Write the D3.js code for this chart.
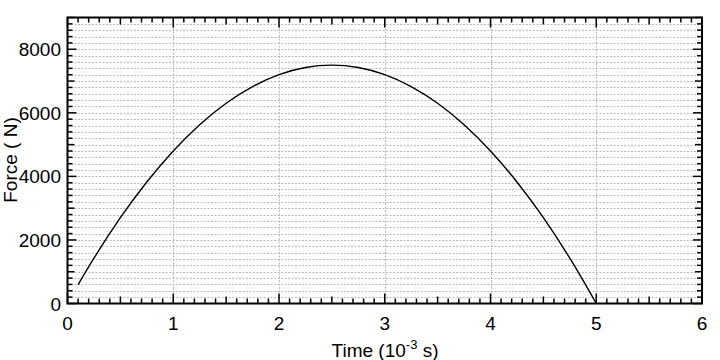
<!DOCTYPE html>
<html>
<head>
<meta charset="utf-8">
<script src="https://cdn.jsdelivr.net/npm/d3@7"></script>
<style>
  body { margin: 0; background: #fff; }
  svg { font-family: "Liberation Sans", Arial, Helvetica, sans-serif; }
</style>
</head>
<body>
<svg id="chart" width="720" height="360"></svg>
<script>
// time (10^-3 s) and force (N)
var times  = [0.1, 0.25, 0.5, 0.75, 1.0, 1.25, 1.5, 1.75, 2.0, 2.25, 2.5, 2.75, 3.0, 3.25, 3.5, 3.75, 4.0, 4.25, 4.5, 4.75, 5.0];
var forces = [590, 1425, 2700, 3825, 4800, 5625, 6300, 6825, 7200, 7425, 7500, 7425, 7200, 6825, 6300, 5625, 4800, 3825, 2700, 1425, 0];
var xTicks = [0, 1, 2, 3, 4, 5, 6];
var yTicks = [0, 2000, 4000, 6000, 8000];

var svg = d3.select('#chart');
var m = { l: 67.5, t: 17.5, r: 702, b: 303.5 };

var x = d3.scaleLinear().domain([0, 6]).range([m.l, m.r]);
var y = d3.scaleLinear().domain([0, 9000]).range([m.b, m.t]);

var grid = svg.append('g')
    .attr('stroke', '#aaa')
    .attr('stroke-width', 0.8)
    .attr('stroke-dasharray', '2,1.5');

// horizontal grid every 200
d3.range(200, 9000, 200).forEach(function (v) {
    grid.append('line')
        .attr('x1', m.l).attr('x2', m.r)
        .attr('y1', Math.round(y(v)) + 0.5).attr('y2', Math.round(y(v)) + 0.5);
});
// vertical grid at majors
xTicks.slice(1, -1).forEach(function (v) {
    grid.append('line')
        .attr('x1', Math.round(x(v)) + 0.5).attr('x2', Math.round(x(v)) + 0.5)
        .attr('y1', m.t).attr('y2', m.b);
});

// ticks (inward, mirrored)
var ticks = svg.append('g').attr('stroke', '#000').attr('stroke-width', 1.5);
d3.range(0, 61).forEach(function (i) {
    var v = i / 10;
    var len = i % 10 === 0 ? 10 : (i % 5 === 0 ? 7 : 5);
    var px = x(v);
    ticks.append('line').attr('x1', px).attr('x2', px).attr('y1', m.b).attr('y2', m.b - len);
    ticks.append('line').attr('x1', px).attr('x2', px).attr('y1', m.t).attr('y2', m.t + len);
});
d3.range(0, 46).forEach(function (i) {
    var v = i * 200;
    var len = v % 2000 === 0 ? 9 : (v % 1000 === 0 ? 7 : 5);
    var py = y(v);
    ticks.append('line').attr('x1', m.l).attr('x2', m.l + len).attr('y1', py).attr('y2', py);
    ticks.append('line').attr('x1', m.r).attr('x2', m.r - len).attr('y1', py).attr('y2', py);
});

// curve
var line = d3.line()
    .x(function (d, i) { return x(times[i]); })
    .y(function (d) { return y(d); })
    .curve(d3.curveMonotoneX);

svg.append('path')
    .datum(forces)
    .attr('d', line)
    .attr('fill', 'none')
    .attr('stroke', '#000')
    .attr('stroke-width', 1.4);

// frame
svg.append('rect')
    .attr('x', m.l).attr('y', m.t)
    .attr('width', m.r - m.l).attr('height', m.b - m.t)
    .attr('fill', 'none')
    .attr('stroke', '#000')
    .attr('stroke-width', 2);

// tick labels
svg.append('g').selectAll('text')
    .data(xTicks).enter().append('text')
    .attr('x', function (d) { return x(d); })
    .attr('y', 330)
    .attr('text-anchor', 'middle')
    .attr('font-size', 19)
    .text(function (d) { return d; });

svg.append('g').selectAll('text')
    .data(yTicks).enter().append('text')
    .attr('x', 61)
    .attr('y', function (d) { return y(d) + 7; })
    .attr('text-anchor', 'end')
    .attr('font-size', 19)
    .text(function (d) { return d; });

// axis titles
var xt = svg.append('text')
    .attr('x', 385).attr('y', 357)
    .attr('text-anchor', 'middle')
    .attr('font-size', 19);
xt.append('tspan').text('Time (10');
xt.append('tspan').attr('font-size', 13).attr('dy', -8).text('-3');
xt.append('tspan').attr('dy', 8).text(' s)');

svg.append('text')
    .attr('transform', 'translate(17,160) rotate(-90)')
    .attr('text-anchor', 'middle')
    .attr('font-size', 19)
    .text('Force ( N)');
</script>
</body>
</html>
